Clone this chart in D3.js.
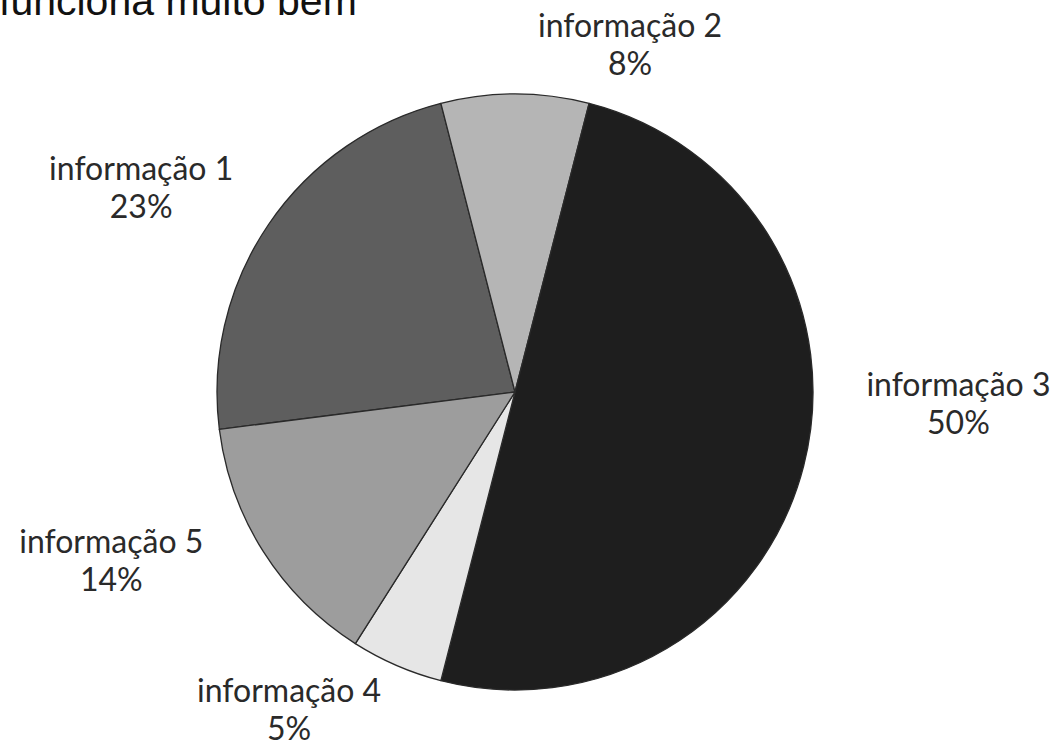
<!DOCTYPE html>
<html>
<head>
<meta charset="utf-8">
<script src="https://cdn.jsdelivr.net/npm/d3@7.9.0/dist/d3.min.js"></script>
<style>
  html, body { margin: 0; padding: 0; background: #fff; overflow: hidden; }
  svg { display: block; }
  .label { font-family: 'Lato', sans-serif; font-size: 32px; font-weight: 400; fill: #2a2a2a; }
</style>
</head>
<body>
<svg id="chart" width="1060" height="745"></svg>
<script>
const categories = ['informação 1', 'informação 2', 'informação 3', 'informação 4', 'informação 5'];
const shares = [23, 8, 50, 5, 14];
const shades = ['#5e5e5e', '#b5b5b5', '#1e1e1e', '#e6e6e6', '#9d9d9d'];
// hand-placed label nudges (px) from the label-radius centroid
const labelNudge = [[-43, 32], [115, 64], [56, -76], [-67, -38], [-66, -34]];

const data = categories.map((c, i) => ({ label: c, value: shares[i] }));

const cx = 515, cy = 392, radius = 298;
const svg = d3.select('#chart');

// clipped heading text from the page above the figure
svg.append('text')
  .attr('x', -1)
  .attr('y', 15)
  .attr('font-family', 'Liberation Sans, Arial, sans-serif')
  .attr('font-size', 41)
  .attr('fill', '#111')
  .text('funciona muito bem');

const deg = Math.PI / 180;
const pie = d3.pie().sort(null).value(d => d.value).startAngle(-97.2 * deg).endAngle(262.8 * deg);
const arcData = pie(data);
const arc = d3.arc().innerRadius(0).outerRadius(radius);
const labelArc = d3.arc().innerRadius(400).outerRadius(400);
const color = d3.scaleOrdinal().domain(categories).range(shades);

const g = svg.append('g').attr('transform', `translate(${cx},${cy})`);

g.selectAll('path')
  .data(arcData)
  .enter()
  .append('path')
  .attr('d', arc)
  .attr('fill', d => color(d.data.label))
  .attr('stroke', '#2a2a2a')
  .attr('stroke-width', 1.3)
  .attr('stroke-linejoin', 'round');

const labels = g.selectAll('text.label')
  .data(arcData)
  .enter()
  .append('text')
  .attr('class', 'label')
  .attr('text-anchor', 'middle')
  .attr('transform', (d, i) => {
    const [x, y] = labelArc.centroid(d);
    return `translate(${x + labelNudge[i][0]},${y + labelNudge[i][1]})`;
  });

labels.append('tspan').attr('x', 0).attr('y', -19).text(d => d.data.label);
labels.append('tspan').attr('x', 0).attr('y', 19).text(d => `${d.data.value}%`);
</script>
</body>
</html>
